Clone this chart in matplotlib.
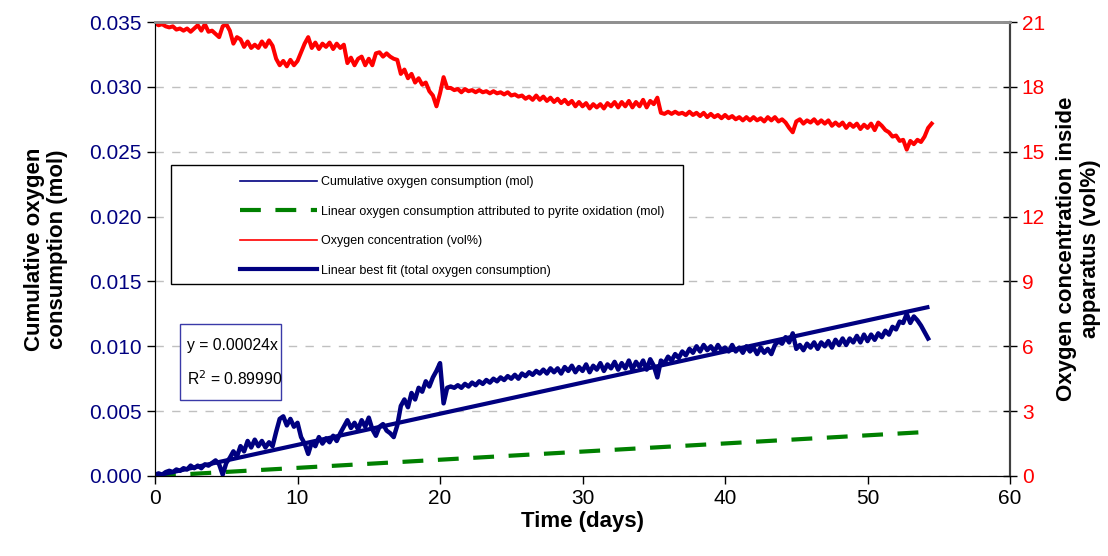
import numpy as np
import matplotlib.pyplot as plt
from matplotlib.patches import Rectangle
from matplotlib.lines import Line2D

plt.rcParams['font.family'] = ['Liberation Sans', 'DejaVu Sans']

# Cumulative oxygen consumption (x 1e-3 mol), one value every 0.25 day
cum_o2_mmol = [
    0.1, 0.2, 0.1, 0.3,   0.4, 0.3, 0.5, 0.4,   0.6, 0.5, 0.8, 0.6,
    0.8, 0.6, 0.9, 0.8,   1.0, 1.2, 0.9, 0.1,   1.0, 1.4, 1.9, 1.5,
    2.3, 1.9, 2.7, 2.2,   2.8, 2.3, 2.7, 2.2,   2.6, 2.3, 3.4, 4.4,
    4.6, 3.9, 4.4, 3.8,   4.1, 3.0, 2.5, 1.7,   2.6, 2.3, 3.0, 2.5,
    2.9, 2.6, 3.1, 2.7,   3.3, 3.8, 4.3, 3.7,   4.1, 3.6, 4.3, 3.8,
    4.5, 3.6, 3.1, 3.8,   4.0, 3.5, 3.3, 3.0,   3.9, 5.4, 5.9, 5.3,
    6.4, 5.9, 6.8, 6.5,   7.3, 6.9, 7.6, 8.1,   8.7, 5.6, 6.8, 6.9,
    6.8, 7.0, 6.8, 7.1,   6.9, 7.2, 7.0, 7.3,   7.1, 7.4, 7.2, 7.5,
    7.3, 7.6, 7.4, 7.7,   7.5, 7.8, 7.5, 7.9,   7.7, 8.0, 7.8, 8.1,
    7.9, 8.2, 7.9, 8.3,   8.0, 8.3, 7.9, 8.4,   8.1, 8.5, 8.0, 8.4,
    8.1, 8.6, 8.0, 8.5,   8.2, 8.7, 8.1, 8.6,   8.3, 8.8, 8.2, 8.7,
    8.3, 8.9, 8.2, 8.8,   8.4, 8.9, 8.2, 9.0,   8.5, 7.6, 8.9, 8.7,
    9.2, 8.9, 9.4, 9.1,   9.6, 9.3, 9.8, 9.5,   10.0, 9.6, 10.1, 9.7,
    10.0, 9.6, 10.1, 9.7, 9.9, 9.6, 10.1, 9.6,  9.9, 9.5, 10.0, 9.6,
    9.9, 9.4, 9.9, 9.5,   9.8, 9.4, 10.1, 10.4, 10.2, 10.7, 10.3, 11.0,
    9.8, 10.1, 9.7, 10.2, 9.9, 10.3, 9.8, 10.3, 10.0, 10.4, 9.9, 10.5,
    10.1, 10.6, 10.1, 10.6, 10.3, 10.8, 10.3, 10.9, 10.4, 10.9, 10.5, 11.0,
    10.7, 11.2, 10.9, 11.5, 11.3, 11.9, 11.8, 12.5, 11.8, 12.3, 12.0, 11.6,
    11.1, 10.6,
]

# Oxygen concentration inside apparatus (vol%), one value every 0.25 day
o2_conc = [
    20.95, 20.85, 20.9, 20.8,   20.75, 20.8, 20.65, 20.7,   20.6, 20.7, 20.55, 20.7,
    20.85, 20.6, 20.9, 20.55,   20.6, 20.45, 20.3, 20.8,    20.9, 20.6, 20.0, 20.3,
    20.2, 19.85, 20.1, 19.8,    19.95, 19.8, 20.1, 19.85,   20.15, 19.9, 19.3, 19.0,
    19.2, 18.95, 19.25, 19.0,   19.2, 19.6, 20.0, 20.3,     19.8, 20.05, 19.75, 20.0,
    19.85, 20.05, 19.75, 20.0,  19.8, 19.95, 19.1, 19.35,   19.0, 19.3, 19.4, 19.0,
    19.3, 19.0, 19.55, 19.6,    19.4, 19.55, 19.4, 19.3,    19.25, 18.6, 18.8, 18.4,
    18.6, 18.2, 18.4, 18.1,     18.2, 17.8, 17.6, 17.1,     17.7, 18.45, 17.95, 17.95,
    17.85, 17.9, 17.75, 17.9,   17.8, 17.85, 17.75, 17.85,  17.75, 17.8, 17.7, 17.8,
    17.7, 17.75, 17.65, 17.75,  17.6, 17.65, 17.55, 17.6,   17.45, 17.55, 17.4, 17.6,
    17.4, 17.55, 17.35, 17.5,   17.3, 17.45, 17.25, 17.4,   17.2, 17.35, 17.1, 17.3,
    17.1, 17.25, 17.0, 17.2,    17.05, 17.2, 17.0, 17.25,   17.1, 17.3, 17.05, 17.3,
    17.1, 17.35, 17.05, 17.3,   17.1, 17.4, 17.05, 17.35,   17.2, 17.5, 16.8, 16.75,
    16.85, 16.75, 16.85, 16.75, 16.8, 16.7, 16.85, 16.7,    16.8, 16.65, 16.8, 16.6,
    16.75, 16.6, 16.7, 16.55,   16.7, 16.55, 16.65, 16.5,   16.6, 16.45, 16.6, 16.45,
    16.6, 16.45, 16.55, 16.4,   16.6, 16.45, 16.6, 16.4,    16.5, 16.35, 16.1, 15.9,
    16.4, 16.5, 16.3, 16.45,    16.35, 16.5, 16.3, 16.45,   16.3, 16.45, 16.2, 16.35,
    16.2, 16.35, 16.1, 16.3,    16.15, 16.3, 16.05, 16.25,  16.1, 16.3, 16.0, 16.35,
    16.2, 16.0, 15.9, 15.7,     15.75, 15.5, 15.55, 15.1,   15.5, 15.35, 15.55, 15.45,
    15.7, 16.1, 16.3,
]

step = 0.25
fit_slope = 0.00024
fit_r2 = 0.89990
pyrite_end = 0.0034     # linear pyrite oxidation consumption at end of run (mol)
t_end = 54.2

cum_o2 = np.array(cum_o2_mmol) * 1e-3
t_cum = np.arange(len(cum_o2)) * step
t_conc = np.arange(len(o2_conc)) * step
t_line = np.array([0, t_end])

navy = '#000080'
red = '#ff0000'
green = '#008000'

fig = plt.figure(figsize=(11.08, 5.56), dpi=100)
ax = fig.add_axes([0.1399, 0.1439, 0.7717, 0.8165])
ax2 = ax.twinx()

ax.plot(t_cum, cum_o2, color=navy, lw=3.2, zorder=3)
ax.plot(t_line, fit_slope * t_line, color=navy, lw=3, zorder=4)
ax.plot(t_line, [0, pyrite_end], color=green, lw=3, dashes=(5, 3.5), zorder=2)
ax2.plot(t_conc, o2_conc, color=red, lw=2.9)

ax.set_xlim(0, 60)
ax.set_ylim(0, 0.035)
ax2.set_ylim(0, 21)
ax.set_xticks(np.arange(0, 61, 10))
ax.set_yticks(np.arange(0, 0.0351, 0.005))
ax2.set_yticks(np.arange(0, 22, 3))
ax.yaxis.set_major_formatter(plt.FuncFormatter(lambda v, p: f'{v:.3f}'))

ax.grid(axis='y', color='#c0c0c0', linestyle=(0, (6, 6)), lw=1)
ax.set_axisbelow(True)

ax.tick_params(axis='y', labelsize=15, direction='out', length=6, width=1,
               labelcolor=navy, color='black')
ax.tick_params(axis='x', labelsize=15, direction='out', length=6, width=1)
ax2.tick_params(axis='y', labelsize=15, direction='inout', length=10, width=1,
                labelcolor=red, color='black')
for a in (ax, ax2):
    a.spines['top'].set_color('#909090')
    a.spines['top'].set_linewidth(2)
    a.spines['right'].set_color('#404040')
    a.spines['right'].set_linewidth(1.5)

ax.set_xlabel('Time (days)', fontsize=16, fontweight='bold', labelpad=2)
ax.set_ylabel('Cumulative oxygen\nconsumption (mol)', fontsize=16, fontweight='bold',
              labelpad=15, linespacing=1.15)
ax2.set_ylabel('Oxygen concentration inside\napparatus (vol%)', fontsize=16,
               fontweight='bold', labelpad=8, linespacing=1.2, rotation=90)

# legend box
ax2.add_patch(Rectangle((0.0187, 0.423), 0.599, 0.262, transform=ax2.transAxes,
                        fc='white', ec='black', lw=1, zorder=5))
handles = [
    Line2D([], [], color=navy, lw=1.2),
    Line2D([], [], color=green, lw=3, dashes=(5, 3.5)),
    Line2D([], [], color=red, lw=1.2),
    Line2D([], [], color=navy, lw=3),
]
labels = [
    'Cumulative oxygen consumption (mol)',
    'Linear oxygen consumption attributed to pyrite oxidation (mol)',
    'Oxygen concentration (vol%)',
    'Linear best fit (total oxygen consumption)',
]
leg = ax2.legend(handles, labels, loc='upper left', bbox_to_anchor=(0.099, 0.66),
                 frameon=False, fontsize=9, handlelength=6.2, handletextpad=0.3,
                 labelspacing=1.4, borderpad=0, borderaxespad=0)
leg.set_zorder(6)

# equation box
ax2.add_patch(Rectangle((0.0292, 0.167), 0.118, 0.167, transform=ax2.transAxes,
                        fc='white', ec='#3a3aa8', lw=1, zorder=5))
ax2.text(0.0375, 0.288, f'y = {fit_slope:.5f}x', transform=ax2.transAxes,
         fontsize=11.3, va='center', ha='left', zorder=6)
ax2.text(0.0375, 0.215, f'R$^2$ = {fit_r2:.5f}', transform=ax2.transAxes,
         fontsize=11.3, va='center', ha='left', zorder=6)

fig.savefig('out.png', dpi=100)
